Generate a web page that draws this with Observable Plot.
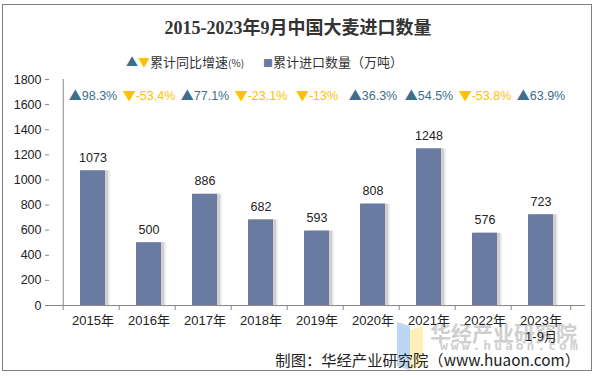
<!DOCTYPE html>
<html><head><meta charset="utf-8">
<script src="https://cdn.jsdelivr.net/npm/d3@7"></script>
<script src="https://cdn.jsdelivr.net/npm/@observablehq/plot@0.6"></script>
<style>
body{margin:0;background:#fff;}
#wrap{position:relative;width:596px;height:376px;overflow:hidden;background:#fff;font-family:"Liberation Sans","Noto Sans CJK SC",sans-serif;}
#frame{position:absolute;left:2px;top:4px;width:590px;height:367px;border:1px solid #808080;box-sizing:border-box;}
#title{position:absolute;left:0;width:596px;top:13px;text-align:center;font-family:"Liberation Serif","Noto Sans CJK SC",serif;font-weight:bold;font-size:18px;color:#333;}
#legend{position:absolute;left:126px;top:52px;white-space:nowrap;font-size:13px;color:#333;font-family:"Noto Sans CJK SC",sans-serif;}
#caption{position:absolute;right:16px;top:348px;font-size:15.3px;color:#222;font-family:"Noto Sans CJK SC",sans-serif;white-space:nowrap;}
#chart{position:absolute;left:0;top:0;}
.wm{position:absolute;color:#cfcfcf;font-weight:bold;font-family:"Noto Sans CJK SC",sans-serif;white-space:nowrap;}
</style></head>
<body><div id="wrap">
<div id="frame"></div>
<div class="wm" style="left:397px;top:324px;width:13px;height:44px;background:#bcd7f3;transform:skewY(18deg);"></div>
<div class="wm" style="left:410px;top:328px;width:13px;height:40px;background:#fdf0b8;transform:skewY(-18deg);"></div>
<div class="wm" style="left:430px;top:317px;font-size:21px;">华经产业研究院</div>
<div class="wm" style="left:440px;top:338px;font-size:13px;letter-spacing:3px;font-family:'DejaVu Sans Mono',monospace;">www.huaon.com</div>
<div id="chart"></div>
<div id="title">2015-2023年9月中国大麦进口数量</div>
<div id="legend"><span style="color:#3d6e8c;font-size:12px">▲</span><span style="color:#ffc000;font-size:12px">▼</span>累计同比增速<span style="font-size:10px">(%)</span><span style="display:inline-block;width:19px"></span><span style="color:#6a7ba2;font-size:10px">■</span>累计进口数量（万吨）</div>
<div id="caption">制图：华经产业研究院（www.huaon.com）</div>
</div>
<script>
const years = ["2015年","2016年","2017年","2018年","2019年","2020年","2021年","2022年","2023年\n1-9月"];
const volume = [1073,500,886,682,593,808,1248,576,723];
const growth = [98.3,-53.4,77.1,-23.1,-13,36.3,54.5,-53.8,63.9];
const yTicks = [0,200,400,600,800,1000,1200,1400,1600,1800];

const data = years.map((y,i)=>({year:y, v:volume[i], g:growth[i]}));
const W=596,H=376,ml=49,mr=11;
const step=(W-ml-mr)/years.length;
const up="#3d6e8c", down="#ffc000", barC="#6a7ba2";

const chart = Plot.plot({
  width:W,height:H,
  marginLeft:ml,marginRight:mr,marginTop:79,marginBottom:71,
  style:{fontFamily:"'Liberation Sans','Noto Sans CJK SC',sans-serif",fontSize:"12.5px",color:"#333",background:"transparent"},
  x:{domain:years,padding:0.55,label:null},
  y:{domain:[0,1800],label:null},
  marks:[
    Plot.barY(data,{x:"year",y:"v",fill:"#000",fillOpacity:0.12,dx:3}),
    Plot.barY(data,{x:"year",y:"v",fill:"#000",fillOpacity:0.07,dx:5}),
    Plot.barY(data,{x:"year",y:"v",fill:barC}),
    Plot.text(data,{x:"year",y:"v",text:d=>String(d.v),dy:-13,fontSize:12.5,fill:"#222"}),
    Plot.text(data,{x:"year",y:()=>1665,text:d=>(d.g>=0?"▲":"▼")+d.g+"%",fill:d=>d.g>=0?up:down,fontSize:12.5}),
    Plot.axisY({ticks:yTicks,tickFormat:d=>String(d),tickSize:4,tickPadding:4,stroke:"#888",fill:"#222",fontSize:12.5,label:null}),
    Plot.ruleX([0],{x:()=>years[0],dx:-step/2,y1:0,y2:1800,stroke:"#888"}),
    Plot.ruleY([0],{stroke:"#888"}),
    Plot.ruleX(years,{x:d=>d,dx:-step/2,y1:0,y2:-40,stroke:"#888"}),
    Plot.ruleX([years[years.length-1]],{x:d=>d,dx:step/2,y1:0,y2:-40,stroke:"#888"}),
    Plot.axisX({tickSize:0,tickPadding:8,fill:"#222",fontSize:13,label:null,lineHeight:1.25})
  ]
});
// enlarge the triangle glyph inside growth labels
chart.querySelectorAll("text").forEach(t=>{
  const s=t.textContent;
  if(s && (s[0]==="▲"||s[0]==="▼") && t.children.length===0){
    const tri=s[0], rest=s.slice(1);
    t.textContent="";
    const ns="http://www.w3.org/2000/svg";
    const a=document.createElementNS(ns,"tspan");
    a.setAttribute("font-family","'Noto Sans CJK SC'");
    a.setAttribute("font-size","13");
    a.textContent=tri;
    const b=document.createElementNS(ns,"tspan");
    b.textContent=rest;
    t.appendChild(a);t.appendChild(b);
  }
});
document.getElementById("chart").appendChild(chart);
</script>
</body></html>
